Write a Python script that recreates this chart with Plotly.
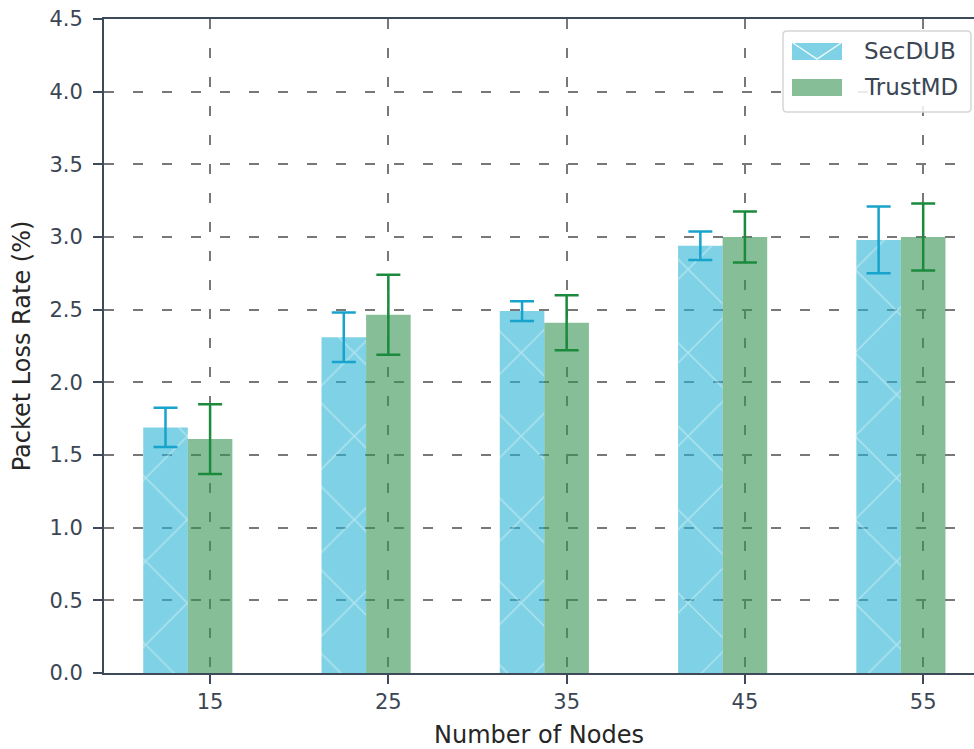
import plotly.graph_objects as go

# Packet loss rate per network size, mean with error (std) for each scheme
NODES = ["15", "25", "35", "45", "55"]
SECDUB = [1.69, 2.31, 2.49, 2.94, 2.98]
SECDUB_ERR = [0.135, 0.17, 0.068, 0.098, 0.23]
TRUSTMD = [1.61, 2.465, 2.41, 3.0, 3.0]
TRUSTMD_ERR = [0.24, 0.275, 0.19, 0.175, 0.23]
Y_TICKS = [0.0, 0.5, 1.0, 1.5, 2.0, 2.5, 3.0, 3.5, 4.0, 4.5]

FONT = "DejaVu Sans"
AXIS_COLOR = "#3e4a59"
TICK_FONT_COLOR = "#3a4654"
GRID_COLOR = "#787878"
# semi-transparent fills so the dashed grid shows through the bars
BLUE = "rgba(42,180,212,0.6)"
GREEN = "rgba(53,148,82,0.6)"
BLUE_SOLID = "#7fd2e5"
GREEN_SOLID = "#86bf97"
BAR_W = 0.25

idx = list(range(len(NODES)))
# SecDUB sits one bar-width left of each tick, TrustMD is centred on the tick
x_sec = [i - BAR_W for i in idx]
x_tru = [i for i in idx]

fig = go.Figure()
fig.add_trace(go.Bar(
    name="SecDUB", x=x_sec, y=SECDUB, width=BAR_W,
    marker=dict(
        color=BLUE,
        line=dict(width=0),
        pattern=dict(shape="x", fgcolor="rgba(255,255,255,0.75)",
                     bgcolor=BLUE, size=59, solidity=0.05),
    ),
    error_y=dict(type="data", array=SECDUB_ERR, visible=True,
                 color="#17a3cb", thickness=2.5, width=12),
    showlegend=False,
))
fig.add_trace(go.Bar(
    name="TrustMD", x=x_tru, y=TRUSTMD, width=BAR_W,
    marker=dict(color=GREEN, line=dict(width=0)),
    error_y=dict(type="data", array=TRUSTMD_ERR, visible=True,
                 color="#1c8a3c", thickness=2.5, width=12),
    showlegend=False,
))

shapes = []

# legend box in the upper-right corner (pixel offsets from the top-right of the axes)
def px_shape(kind, x0, x1, y0, y1, **kw):
    return dict(type=kind, xref="paper", yref="paper", xsizemode="pixel", ysizemode="pixel",
                xanchor=1, yanchor=1, x0=x0, x1=x1, y0=y0, y1=y1, layer="above", **kw)

def rounded_box(x0, x1, y0, y1, r):
    return (f"M{x0 + r},{y0} L{x1 - r},{y0} Q{x1},{y0} {x1},{y0 - r} "
            f"L{x1},{y1 + r} Q{x1},{y1} {x1 - r},{y1} L{x0 + r},{y1} "
            f"Q{x0},{y1} {x0},{y1 + r} L{x0},{y0 - r} Q{x0},{y0} {x0 + r},{y0} Z")

shapes.append(dict(type="path", xref="paper", yref="paper", xsizemode="pixel",
                   ysizemode="pixel", xanchor=1, yanchor=1,
                   path=rounded_box(-191, -3, -12, -93, 4),
                   fillcolor="rgba(255,255,255,0.85)",
                   line=dict(color="#d6d6d6", width=1.5), layer="above"))
shapes.append(px_shape("rect", -182, -132, -24, -41, fillcolor=BLUE_SOLID,
                       line=dict(width=0)))
shapes.append(dict(type="path", xref="paper", yref="paper", xsizemode="pixel",
                   ysizemode="pixel", xanchor=1, yanchor=1,
                   path="M-181,-24 L-157,-40 L-133,-24",
                   line=dict(color="rgba(255,255,255,0.85)", width=1.5), layer="above"))
shapes.append(px_shape("rect", -182, -132, -60, -77, fillcolor=GREEN_SOLID,
                       line=dict(width=0)))

legend_labels = ["SecDUB", "TrustMD"]
annotations = []
for k, lab in enumerate(legend_labels):
    annotations.append(dict(text=lab, xref="paper", yref="paper", x=1, y=1,
                            xanchor="left", yanchor="middle", showarrow=False,
                            xshift=-112, yshift=-32 - 36 * k,
                            font=dict(family=FONT, size=23, color="#3a4654")))

grid_style = dict(showgrid=True, gridcolor=GRID_COLOR, gridwidth=1.5, griddash="10px,19px")

fig.update_layout(
    width=974, height=749,
    margin=dict(l=104, r=0, t=19, b=76),
    paper_bgcolor="white", plot_bgcolor="white",
    barmode="overlay",
    font=dict(family=FONT, size=21, color=TICK_FONT_COLOR),
    shapes=shapes, annotations=annotations,
    showlegend=False,
    xaxis=dict(
        range=[-0.595, 4.285], tickvals=idx, ticktext=NODES,
        showline=True, linecolor=AXIS_COLOR, linewidth=2, mirror=True,
        ticks="outside", ticklen=9, tickwidth=1.5, tickcolor=AXIS_COLOR,
        zeroline=False, **grid_style,
        tickfont=dict(family=FONT, size=21, color=TICK_FONT_COLOR),
        title=dict(text="Number of Nodes", standoff=14,
                   font=dict(family=FONT, size=24, color="#262626")),
    ),
    yaxis=dict(
        range=[0, 4.5], tickvals=Y_TICKS, tickformat=".1f",
        showline=True, linecolor=AXIS_COLOR, linewidth=2, mirror=False,
        ticks="outside", ticklen=9, tickwidth=1.5, tickcolor=AXIS_COLOR,
        zeroline=False, ticklabelstandoff=6, **grid_style,
        tickfont=dict(family=FONT, size=21, color=TICK_FONT_COLOR),
        title=dict(text="Packet Loss Rate (%)", standoff=12,
                   font=dict(family=FONT, size=24, color="#262626")),
    ),
)

fig.write_html("out.html")
